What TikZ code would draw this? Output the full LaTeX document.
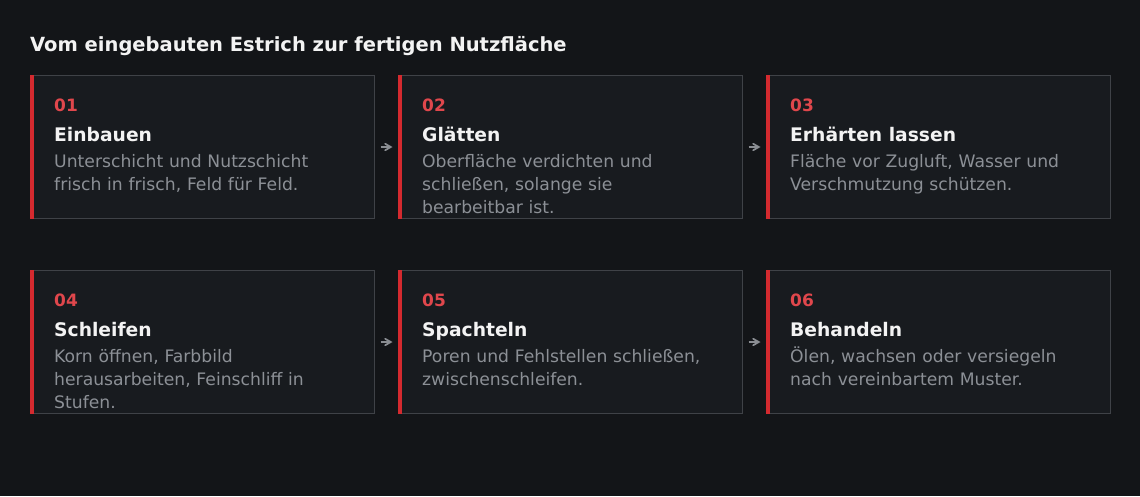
\documentclass[tikz,border=0pt]{standalone}
\usepackage{fontspec}
\setmainfont{DejaVu Sans}
\usetikzlibrary{positioning,arrows}

\definecolor{pagebg}{HTML}{131518}
\definecolor{boxbg}{HTML}{181B1F}
\definecolor{boxline}{HTML}{3F4247}
\definecolor{barred}{HTML}{D42A2F}
\definecolor{numred}{HTML}{E0474C}
\definecolor{titlewhite}{HTML}{F3F3F3}
\definecolor{descgray}{HTML}{8C9096}
\definecolor{arrowgray}{HTML}{8A8D92}

\tikzset{
  stepbox/.style={draw=boxline, fill=boxbg, line width=1pt, rectangle,
    minimum width=344pt, minimum height=143pt, inner sep=0pt, anchor=north west},
  stepnum/.style={anchor=base west, inner sep=0pt, text=numred,
    font=\fontsize{17}{20}\selectfont\bfseries},
  steptitle/.style={anchor=base west, inner sep=0pt, text=titlewhite,
    font=\fontsize{18.7}{22}\selectfont\bfseries},
  stepdesc/.style={anchor=base west, inner sep=0pt, text=descgray, align=left,
    text width=315pt, font=\fontsize{17.2}{23}\selectfont},
  flow/.style={->, >=angle 60, draw=arrowgray, line width=1.7pt, shorten >=5.5pt, shorten <=5.5pt}
}

\begin{document}
\begin{tikzpicture}[x=1pt, y=-1pt]
  \useasboundingbox (0,0) rectangle (1140,496);
  \fill[pagebg] (0,0) rectangle (1140,496);
  % heading
  \node[anchor=base west, inner sep=0pt, text=titlewhite,
    font=\fontsize{19.5}{22}\selectfont\bfseries] (head) at (30,51.5)
    {Vom eingebauten Estrich zur fertigen Nutzfläche};
  % the six steps
  \foreach \n/\x/\y/\num/\ttl/\desc in {
    s1/30/75/01/Einbauen/{Unterschicht und Nutzschicht\\frisch in frisch, Feld für Feld.},
    s2/398/75/02/Glätten/{Oberfläche verdichten und\\schließen, solange sie\\bearbeitbar ist.},
    s3/766/75/03/Erhärten lassen/{Fläche vor Zugluft, Wasser und\\Verschmutzung schützen.},
    s4/30/270/04/Schleifen/{Korn öffnen, Farbbild\\herausarbeiten, Feinschliff in\\Stufen.},
    s5/398/270/05/Spachteln/{Poren und Fehlstellen schließen,\\zwischenschleifen.},
    s6/766/270/06/Behandeln/{Ölen, wachsen oder versiegeln\\nach vereinbartem Muster.}} {
    \node[stepbox] (\n) at (\x,\y) {};
    \fill[barred] (\n.north west) rectangle ([xshift=4pt]\n.south west);
    \node[stepnum] (\n-num) at ([shift={(24,36)}]\n.north west) {\num};
    \node[steptitle] (\n-title) at ([shift={(24,66)}]\n.north west) {\ttl};
    \node[stepdesc] (\n-desc) at ([shift={(24,92.5)}]\n.north west) {\desc};
  }
  % arrows between neighbours
  \draw[flow] (s1) -- (s2);
  \draw[flow] (s2) -- (s3);
  \draw[flow] (s4) -- (s5);
  \draw[flow] (s5) -- (s6);
\end{tikzpicture}
\end{document}
